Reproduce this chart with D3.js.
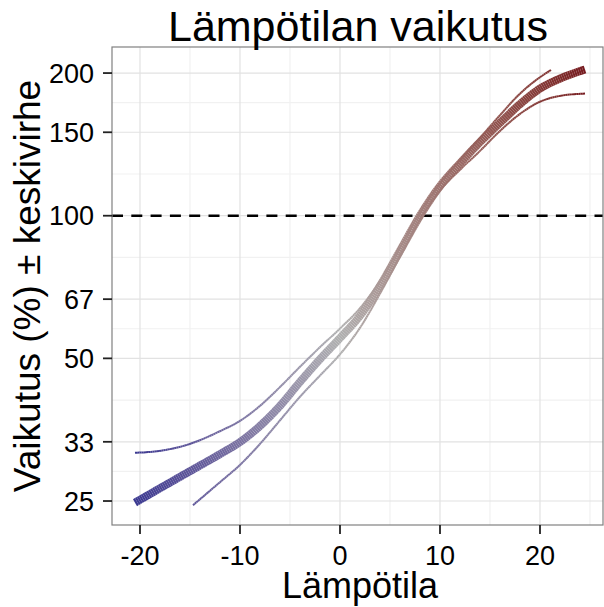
<!DOCTYPE html>
<html>
<head>
<meta charset="utf-8">
<script src="https://cdn.jsdelivr.net/npm/d3@7"></script>
<style>
  html, body { margin: 0; padding: 0; background: #fff; }
  svg { display: block; }
  text { font-family: "Liberation Sans", Arial, Helvetica, sans-serif; fill: #000; }
</style>
</head>
<body>
<script>
// ---------- data ----------
const titleText = "Lämpötilan vaikutus";
const xTitle = "Lämpötila";
const yTitle = "Vaikutus (%) ± keskivirhe";

const xTicks = [-20, -10, 0, 10, 20];
const xTickLabels = ["-20", "-10", "0", "10", "20"];
const xMinor = [-15, -5, 5, 15, 25];

const yTicks = [25, 100 / 3, 50, 200 / 3, 100, 150, 200];
const yTickLabels = ["25", "33", "50", "67", "100", "150", "200"];
const refLine = 100;

// main estimate (thick line)
const mainTemp = [-20.5, -18, -15, -12, -10, -8, -6, -4, -2, 0, 2, 4, 6, 8, 10, 12, 14, 16, 18, 20, 22, 24.5];
const mainVal  = [24.8, 26.6, 28.9, 31.4, 33.3, 36.0, 39.7, 44.6, 49.8, 55.2, 61.5, 71.1, 84.3, 100, 115.5, 129, 143, 157, 172, 185.5, 194.7, 203.5];

// upper error curve
const upperTemp = [-20.5, -18, -15, -12, -10, -8, -6, -4, -2, 0, 2, 4, 6, 8, 10, 12, 14, 16, 18, 20, 21.1];
const upperVal  = [31.6, 31.9, 33.0, 35.1, 36.9, 39.7, 43.5, 48.0, 52.8, 57.8, 63.8, 72.8, 85.8, 101.5, 117, 131, 146, 163, 181, 196, 203];

// lower error curve
const lowerTemp = [-14.7, -12, -10, -8, -6, -4, -2, 0, 2, 4, 6, 8, 10, 12, 14, 16, 18, 20, 22, 24.5];
const lowerVal  = [24.5, 27.4, 29.8, 33, 37, 41.5, 46, 51, 58, 68.5, 82, 98, 113, 125, 137, 151, 164, 174, 179, 181];

// colour scale (by temperature)
const colLow = "#3a3890", colMid = "#b0b0b0", colHigh = "#761a1f";
const colDomain = [-20.5, 0, 24.5];

// ---------- layout ----------
const W = 604, H = 607;
const P = { left: 112, top: 47, right: 603, bottom: 525 };

const svg = d3.select("body").append("svg").attr("width", W).attr("height", H);

const x = d3.scaleLinear().domain([-22.8, 26.3]).range([P.left, P.right]);
const y = d3.scaleLog().domain([22.25, 227]).range([P.bottom, P.top]);

const color = d3.scaleLinear().domain(colDomain).range([colLow, colMid, colHigh]).interpolate(d3.interpolateLab);

// panel background
svg.append("rect").attr("x", P.left).attr("y", P.top)
  .attr("width", P.right - P.left).attr("height", P.bottom - P.top).attr("fill", "#fff");

const grid = svg.append("g");
// minor grid
const yMinor = d3.pairs(yTicks).map(([a, b]) => Math.sqrt(a * b));
grid.selectAll("line.xm").data(xMinor).join("line")
  .attr("x1", d => x(d)).attr("x2", d => x(d)).attr("y1", P.top).attr("y2", P.bottom)
  .attr("stroke", "#f1f1f1").attr("stroke-width", 1.2);
grid.selectAll("line.ym").data(yMinor).join("line")
  .attr("y1", d => y(d)).attr("y2", d => y(d)).attr("x1", P.left).attr("x2", P.right)
  .attr("stroke", "#f1f1f1").attr("stroke-width", 1.2);
// major grid
grid.selectAll("line.xM").data(xTicks).join("line")
  .attr("x1", d => x(d)).attr("x2", d => x(d)).attr("y1", P.top).attr("y2", P.bottom)
  .attr("stroke", "#e2e2e2").attr("stroke-width", 1.2);
grid.selectAll("line.yM").data(yTicks).join("line")
  .attr("y1", d => y(d)).attr("y2", d => y(d)).attr("x1", P.left).attr("x2", P.right)
  .attr("stroke", "#e2e2e2").attr("stroke-width", 1.2);

// reference dashed line
svg.append("line")
  .attr("x1", P.left).attr("x2", P.right).attr("y1", y(refLine)).attr("y2", y(refLine))
  .attr("stroke", "#000").attr("stroke-width", 2.6).attr("stroke-dasharray", "11,8.3");

// gradient-coloured path drawn as many short segments
function drawCurve(temps, vals, width) {
  const gen = d3.line().x(d => x(d[0])).y(d => y(d[1])).curve(d3.curveMonotoneX);
  const pts = temps.map((t, i) => [t, vals[i]]);
  const tmp = svg.append("path").attr("d", gen(pts)).attr("fill", "none").attr("stroke", "none");
  const node = tmp.node();
  const L = node.getTotalLength();
  const step = 2.2;
  const n = Math.max(2, Math.ceil(L / step));
  const samples = d3.range(n + 1).map(i => node.getPointAtLength(L * i / n));
  tmp.remove();
  const g = svg.append("g");
  g.selectAll("line").data(d3.pairs(samples)).join("line")
    .attr("x1", d => d[0].x).attr("y1", d => d[0].y)
    .attr("x2", d => d[1].x).attr("y2", d => d[1].y)
    .attr("stroke", d => color(x.invert((d[0].x + d[1].x) / 2)))
    .attr("stroke-width", width)
    .attr("stroke-linecap", "butt");
}

drawCurve(mainTemp, mainVal, 8);
drawCurve(upperTemp, upperVal, 2);
drawCurve(lowerTemp, lowerVal, 2);

// panel border
svg.append("rect").attr("x", P.left).attr("y", P.top)
  .attr("width", P.right - P.left).attr("height", P.bottom - P.top)
  .attr("fill", "none").attr("stroke", "#808080").attr("stroke-width", 1.2);

// x axis ticks and labels
const xa = svg.append("g");
xa.selectAll("line").data(xTicks).join("line")
  .attr("x1", d => x(d)).attr("x2", d => x(d)).attr("y1", P.bottom).attr("y2", P.bottom + 9)
  .attr("stroke", "#222").attr("stroke-width", 1.8);
xa.selectAll("text").data(xTicks).join("text")
  .attr("x", d => x(d)).attr("y", 565).attr("text-anchor", "middle")
  .attr("font-size", 27).text((d, i) => xTickLabels[i]);

// y axis ticks and labels
const ya = svg.append("g");
ya.selectAll("line").data(yTicks).join("line")
  .attr("y1", d => y(d)).attr("y2", d => y(d)).attr("x1", P.left - 9).attr("x2", P.left)
  .attr("stroke", "#222").attr("stroke-width", 1.8);
ya.selectAll("text").data(yTicks).join("text")
  .attr("x", 94).attr("y", d => y(d)).attr("dy", "0.36em").attr("text-anchor", "end")
  .attr("font-size", 27).text((d, i) => yTickLabels[i]);

// titles
svg.append("text").attr("x", 358).attr("y", 41).attr("text-anchor", "middle")
  .attr("font-size", 43).text(titleText);
svg.append("text").attr("x", 360).attr("y", 598).attr("text-anchor", "middle")
  .attr("font-size", 36).text(xTitle);
svg.append("text").attr("transform", `translate(40,${(P.top + P.bottom) / 2}) rotate(-90)`)
  .attr("text-anchor", "middle").attr("font-size", 37).text(yTitle);
</script>
</body>
</html>
